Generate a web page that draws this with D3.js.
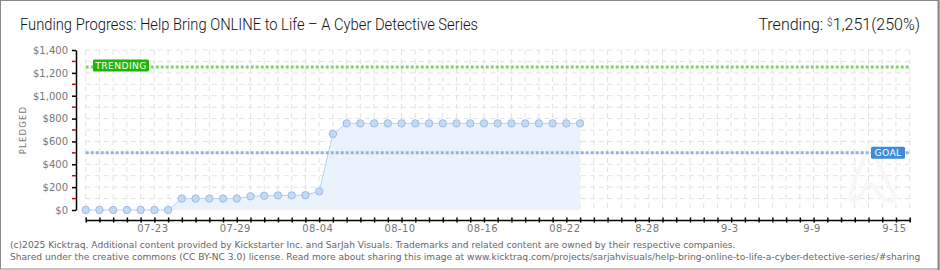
<!DOCTYPE html>
<html><head><meta charset="utf-8">
<script src="https://cdn.jsdelivr.net/npm/d3@7"></script>
<style>body{margin:0;background:#fff}svg{display:block}</style>
</head><body>
<svg id="c" width="940" height="270"></svg>
<script>
// ---- data ----
const startDate = "2025-07-18";
const pledged = [0,0,0,0,0,0,0,100,100,100,100,100,120,125,128,128,130,163,665,
  758,758,758,758,758,758,758,758,758,758,758,758,758,758,758,758,758,758];
const goal = 500;
const trending = 1251;
const yTicks = [0,200,400,600,800,1000,1200,1400];
const yMinor = [100,300,500,700,900,1100,1300];
const xTickDates = ["2025-07-23","2025-07-29","2025-08-04","2025-08-10","2025-08-16","2025-08-22","2025-08-28","2025-09-03","2025-09-09","2025-09-15"];
const xTickLabels = ["07-23","07-29","08-04","08-10","08-16","08-22","8-28","9-3","9-9","9-15"];
const title = "Funding Progress: Help Bring ONLINE to Life \u2013 A Cyber Detective Series";
const footer1 = "(c)2025 Kicktraq. Additional content provided by Kickstarter Inc. and SarJah Visuals. Trademarks and related content are owned by their respective companies.";
const footer2 = "Shared under the creative commons (CC BY-NC 3.0) license. Read more about sharing this image at www.kicktraq.com/projects/sarjahvisuals/help-bring-online-to-life-a-cyber-detective-series/#sharing";

const parse = d3.utcParse("%Y-%m-%d");
const t0 = parse(startDate);
const data = pledged.map((v,i)=>({date:d3.utcDay.offset(t0,i), v}));

const svg = d3.select("#c");
const x = d3.scaleUtc().domain([t0, d3.utcDay.offset(t0,60)]).range([85.7, 909.7]);
const y = d3.scaleLinear().domain([0,1400]).range([210,50]);

// border
svg.append("rect").attr("x",0.5).attr("y",0.5).attr("width",938.5).attr("height",268.5)
  .attr("fill","#fff").attr("stroke","#8a8a8a");

// grid
const days = d3.utcDay.range(t0, d3.utcDay.offset(t0,61));
const grid = svg.append("g").attr("stroke","#e2e2e2").attr("stroke-dasharray","5,4");
grid.selectAll("line.v").data(days).join("line")
  .attr("x1",d=>x(d)).attr("x2",d=>x(d)).attr("y1",y(1400)).attr("y2",y(0)+1);
grid.selectAll("line.h").data(d3.range(100,1401,100)).join("line")
  .attr("x1",x(t0)).attr("x2",910).attr("y1",d=>y(d)).attr("y2",d=>y(d));

// watermark (very faint)
svg.append("path")
  .attr("d","M850,198 C852,185 862,160 870,146 C878,160 888,185 896,198 C890,204 882,200 876,190 C872,182 868,182 864,190 C858,200 852,204 850,198 Z")
  .attr("fill","none").attr("stroke","#f7f7f7").attr("stroke-width",4).attr("stroke-linejoin","round");

// area + line
svg.append("path").datum(data)
  .attr("d", d3.area().x(d=>x(d.date)).y0(y(0)).y1(d=>y(d.v)))
  .attr("fill","#eaf2fc");
svg.append("path").datum(data)
  .attr("d", d3.line().x(d=>x(d.date)).y(d=>y(d.v)))
  .attr("fill","none").attr("stroke","#b9d3f1").attr("stroke-width",1);

// goal & trending lines
svg.append("line").attr("x1",x(t0)).attr("x2",910).attr("y1",y(goal)).attr("y2",y(goal))
  .attr("stroke","#8fb3e0").attr("stroke-width",3).attr("stroke-dasharray","3,2");
svg.append("line").attr("x1",x(t0)).attr("x2",910).attr("y1",y(trending)).attr("y2",y(trending))
  .attr("stroke","#7fd36c").attr("stroke-width",3).attr("stroke-dasharray","3,2");

// points
svg.append("g").selectAll("circle").data(data).join("circle")
  .attr("cx",d=>x(d.date)).attr("cy",d=>y(d.v)).attr("r",3.7)
  .attr("fill","#c3daf6").attr("stroke","#98b6dc").attr("stroke-width",0.9);

// labels boxes
function tag(label, cx, cy, w, fill){
  const g = svg.append("g");
  g.append("rect").attr("x",cx).attr("y",cy-6).attr("width",w).attr("height",12).attr("rx",1.5).attr("fill",fill);
  g.append("text").attr("x",cx+w/2).attr("y",cy+3.5).attr("text-anchor","middle")
    .attr("font-family","DejaVu Sans, sans-serif").attr("font-size",9.2)
    .attr("fill","#fff").attr("letter-spacing",0.4).text(label);
}
tag("TRENDING", 93, y(trending)-1.5, 56, "#1fb50a");
tag("GOAL", 871, y(goal), 34, "#3f8bd8");

// y axis
const yAxis = d3.axisLeft(y).tickValues(yTicks).tickSize(4).tickSizeOuter(0)
  .tickFormat(d=>"$"+d3.format(",")(d));
const ga = svg.append("g").attr("transform","translate(76,0)").call(yAxis);
ga.select(".domain").attr("stroke","#000").attr("stroke-width",1.5);
ga.selectAll(".tick line").attr("stroke","#000").attr("stroke-width",1.5);
ga.selectAll(".tick text").attr("x",-8).attr("fill","#777")
  .attr("font-family","DejaVu Sans, sans-serif").attr("font-size",10).attr("dy","0.34em");
ga.selectAll("line.minor").data(yMinor).join("line").attr("class","minor")
  .attr("x1",-4).attr("x2",0).attr("y1",d=>y(d)).attr("y2",d=>y(d))
  .attr("stroke","#e00000").attr("stroke-width",1.5);

svg.append("text").attr("transform","translate(26,130) rotate(-90)").attr("text-anchor","middle")
  .attr("font-family","DejaVu Sans, sans-serif").attr("font-size",8.5).attr("letter-spacing",1.2)
  .attr("fill","#777").text("PLEDGED");

// x axis
const labelMap = new Map(xTickDates.map((d,i)=>[+parse(d), xTickLabels[i]]));
const xAxis = d3.axisBottom(x).tickValues(days).tickSize(5).tickSizeOuter(0)
  .tickFormat(d=>labelMap.get(+d)||"");
const gx = svg.append("g").attr("transform","translate(0,220)").call(xAxis);
gx.select(".domain").attr("stroke","#000").attr("stroke-width",1.5);
gx.selectAll(".tick line").attr("stroke","#000").attr("stroke-width",1.5).attr("y1",-2.5).attr("y2",2.5);
gx.selectAll(".tick text").attr("y",5).attr("dx",-2).attr("fill","#777")
  .attr("font-family","DejaVu Sans, sans-serif").attr("font-size",10).attr("letter-spacing",0.4);

// title
svg.append("text").attr("x",20).attr("y",29.5).attr("font-family","Roboto, sans-serif").attr("font-weight",300)
  .attr("font-size",16).attr("fill","#111").attr("textLength",458).attr("lengthAdjust","spacingAndGlyphs").text(title);
const tr = svg.append("text").attr("x",920).attr("y",29.5).attr("text-anchor","end")
  .attr("font-family","Roboto, sans-serif").attr("font-weight",300).attr("font-size",16).attr("fill","#111");
tr.append("tspan").text("Trending:  ");
tr.append("tspan").attr("font-size",10).attr("dy",-4).text("$");
tr.append("tspan").attr("dy",4).text(d3.format(",")(trending)+"(250%)");

// footer
const fg = svg.append("g").attr("font-family","DejaVu Sans, sans-serif").attr("font-size",9.1).attr("fill","#666");
fg.append("text").attr("x",10).attr("y",248).text(footer1);
fg.append("text").attr("x",10).attr("y",259.5).text(footer2);
svg.append("line").attr("x1",938.5).attr("x2",938.5).attr("y1",0).attr("y2",270).attr("stroke","#8a8a8a").attr("stroke-width",2);
</script>
</body></html>
